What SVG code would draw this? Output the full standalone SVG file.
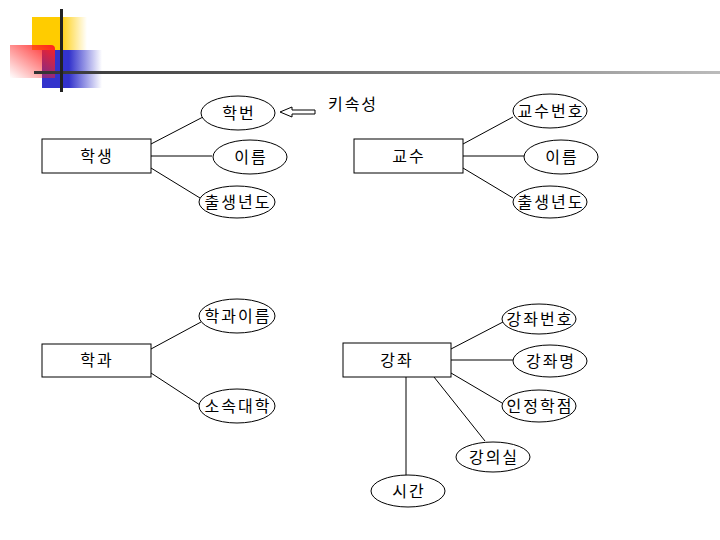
<svg xmlns="http://www.w3.org/2000/svg" width="720" height="540" viewBox="0 0 720 540">
<style>
.ent{fill:#fff;stroke:#000;stroke-width:1}
.att{fill:#fff;stroke:#000;stroke-width:1}
.t{font-family:"Noto Sans CJK KR","Noto Sans",sans-serif;font-size:16px;letter-spacing:2px;text-anchor:middle;fill:#000}
.ln{stroke:#000;stroke-width:1;fill:none}
</style>
<defs>
<linearGradient id="gy" x1="0" y1="0" x2="1" y2="0"><stop offset="0.5" stop-color="#ffcc00"/><stop offset="1" stop-color="#ffcc00" stop-opacity="0"/></linearGradient>
<linearGradient id="gb" x1="0" y1="0" x2="1" y2="0"><stop offset="0.45" stop-color="#3333cc"/><stop offset="1" stop-color="#3333cc" stop-opacity="0"/></linearGradient>
<linearGradient id="gr" x1="1" y1="0" x2="0" y2="1"><stop offset="0" stop-color="#ff2020"/><stop offset="1" stop-color="#ff2020" stop-opacity="0"/></linearGradient>
<linearGradient id="gl" x1="0" y1="0" x2="1" y2="0"><stop offset="0" stop-color="#333"/><stop offset="1" stop-color="#bbb"/></linearGradient>
</defs>
<rect width="720" height="540" fill="#fff"/>
<g id="decoration">
<rect x="32" y="17" width="55" height="33" fill="url(#gy)"/>
<rect x="42" y="50" width="60" height="38" fill="url(#gb)"/>
<path d="M10 45 H51 Q55 45 55 49 V78 H10 Z" fill="url(#gr)"/>
<rect x="34" y="71" width="686" height="3" fill="url(#gl)"/>
<rect x="60" y="9" width="3" height="83" fill="#222"/>
</g>
<g id="connectors">
<line class="ln" x1="151" y1="144" x2="203" y2="117"/>
<line class="ln" x1="151" y1="156" x2="212" y2="156"/>
<line class="ln" x1="151" y1="168" x2="200" y2="198"/>
<line class="ln" x1="463" y1="144" x2="513" y2="117"/>
<line class="ln" x1="463" y1="156" x2="524" y2="156"/>
<line class="ln" x1="463" y1="168" x2="513" y2="198"/>
<line class="ln" x1="151" y1="349" x2="201" y2="322"/>
<line class="ln" x1="151" y1="373" x2="200" y2="405"/>
<line class="ln" x1="451" y1="349" x2="503" y2="322"/>
<line class="ln" x1="451" y1="360" x2="513" y2="360"/>
<line class="ln" x1="451" y1="373" x2="502" y2="403"/>
<line class="ln" x1="434" y1="377" x2="485" y2="441"/>
<line class="ln" x1="406" y1="377" x2="406" y2="476"/>
<path class="ln" d="M280 112 L292 107 V110 H315 V114 H292 V117 Z" fill="#fff"/>
</g>
<g id="keyattr-label"><text class="t" x="353" y="110">키속성</text></g>
<g id="e-student"><rect class="ent" x="42" y="139" width="109" height="34"/><text class="t" x="97" y="162">학생</text></g>
<g id="a-hakbeon"><ellipse class="att" cx="238" cy="113" rx="37" ry="17"/><text class="t" x="239" y="119">학번</text></g>
<g id="a-name1"><ellipse class="att" cx="250" cy="157" rx="37" ry="17"/><text class="t" x="251" y="163">이름</text></g>
<g id="a-birth1"><ellipse class="att" cx="237" cy="202" rx="38" ry="16"/><text class="t" x="238" y="208">출생년도</text></g>
<g id="e-prof"><rect class="ent" x="354" y="139" width="109" height="34"/><text class="t" x="409" y="162">교수</text></g>
<g id="a-profno"><ellipse class="att" cx="550" cy="111" rx="37" ry="17"/><text class="t" x="551" y="117">교수번호</text></g>
<g id="a-name2"><ellipse class="att" cx="561" cy="157" rx="37" ry="17"/><text class="t" x="562" y="163">이름</text></g>
<g id="a-birth2"><ellipse class="att" cx="550" cy="202" rx="37" ry="16"/><text class="t" x="551" y="208">출생년도</text></g>
<g id="e-dept"><rect class="ent" x="42" y="344" width="109" height="33"/><text class="t" x="97" y="366">학과</text></g>
<g id="a-deptname"><ellipse class="att" cx="237" cy="316" rx="38" ry="17"/><text class="t" x="238" y="322">학과이름</text></g>
<g id="a-college"><ellipse class="att" cx="237" cy="406" rx="38" ry="17"/><text class="t" x="238" y="412">소속대학</text></g>
<g id="e-course"><rect class="ent" x="343" y="343" width="108" height="34"/><text class="t" x="397" y="366">강좌</text></g>
<g id="a-courseno"><ellipse class="att" cx="539" cy="319" rx="37" ry="15"/><text class="t" x="540" y="325">강좌번호</text></g>
<g id="a-coursename"><ellipse class="att" cx="550" cy="361" rx="37" ry="16"/><text class="t" x="551" y="367">강좌명</text></g>
<g id="a-credit"><ellipse class="att" cx="539" cy="406" rx="37" ry="16"/><text class="t" x="540" y="412">인정학점</text></g>
<g id="a-room"><ellipse class="att" cx="493" cy="457" rx="37" ry="15"/><text class="t" x="494" y="463">강의실</text></g>
<g id="a-time"><ellipse class="att" cx="408" cy="491" rx="37" ry="16"/><text class="t" x="409" y="497">시간</text></g>
</svg>
